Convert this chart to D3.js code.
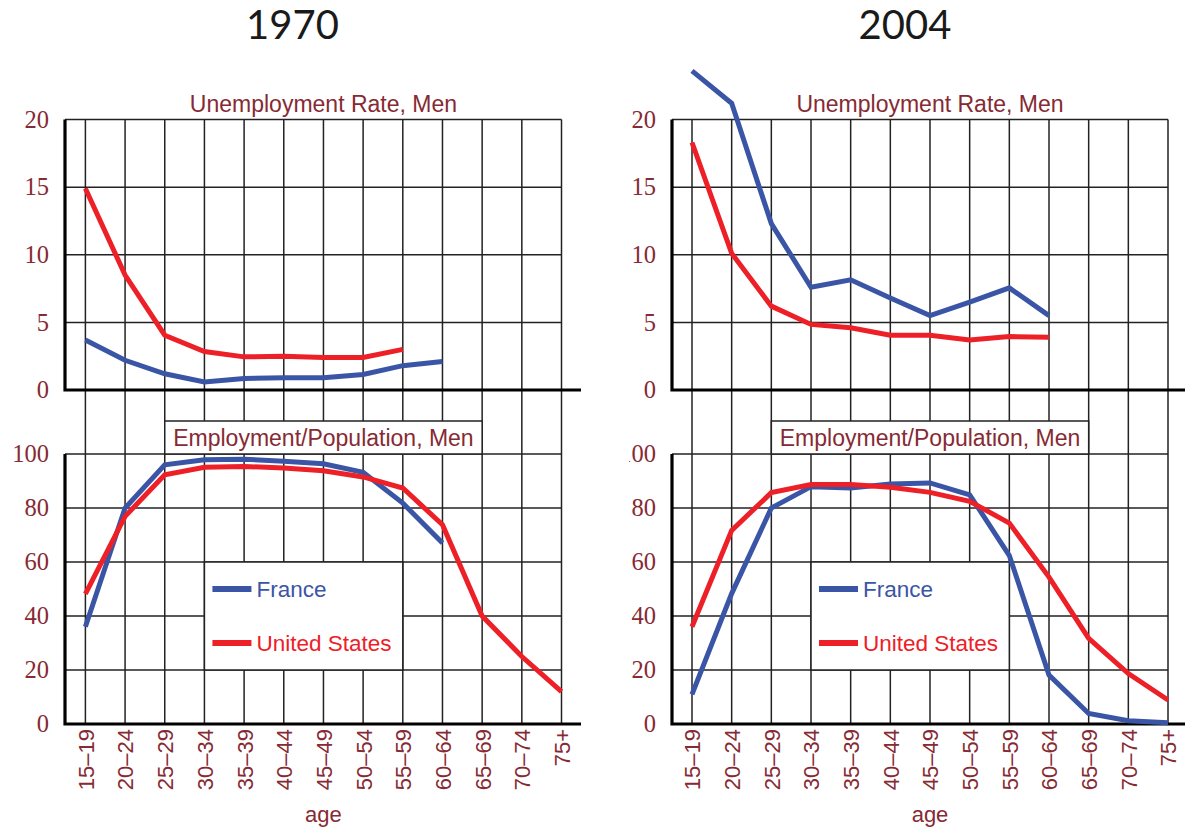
<!DOCTYPE html>
<html>
<head>
<meta charset="utf-8">
<script src="https://cdn.jsdelivr.net/npm/d3@7"></script>
<style>
  html, body { margin: 0; padding: 0; background: #ffffff; }
  svg { display: block; }
</style>
</head>
<body>
<svg id="chart" width="1185" height="831"></svg>
<script>
// ---------- data ----------
const ages = ["15–19","20–24","25–29","30–34","35–39","40–44","45–49","50–54","55–59","60–64","65–69","70–74","75+"];
const years = ["1970", "2004"];
const unempTicks = [0, 5, 10, 15, 20];
const empTicks = [0, 20, 40, 60, 80, 100];
const seriesNames = ["France", "United States"];

const unemp1970France = [3.7, 2.2, 1.2, 0.6, 0.85, 0.9, 0.9, 1.15, 1.8, 2.1];
const unemp1970US     = [14.9, 8.5, 4.05, 2.85, 2.45, 2.5, 2.4, 2.4, 3.0];
const emp1970France   = [36, 80, 96, 97.9, 98.1, 97.3, 96.4, 93.2, 81.8, 67];
const emp1970US       = [48.2, 76.9, 92.3, 95.1, 95.4, 94.8, 93.8, 91.5, 87.4, 73.8, 40, 25, 12];

const unemp2004France = [23.6, 21.2, 12.3, 7.6, 8.15, 6.8, 5.5, 6.5, 7.55, 5.5];
const unemp2004US     = [18.3, 10.1, 6.2, 4.85, 4.6, 4.05, 4.05, 3.7, 3.95, 3.9];
const emp2004France   = [11, 48.3, 80, 87.9, 87.4, 88.9, 89.3, 84.9, 62.4, 18.1, 3.9, 1.2, 0.5];
const emp2004US       = [36, 71.7, 85.7, 88.7, 88.7, 87.7, 85.8, 82.5, 74.4, 54.4, 31.7, 18.7, 8.9];

// ---------- styles ----------
const BLUE = "#3a55a5";
const RED = "#ed2027";
const TXT = "#862a33";
const GRID = "#222";
const SANS = "'Liberation Sans', Arial, sans-serif";
const SERIF = "'Liberation Serif', 'Times New Roman', serif";

const svg = d3.select("#chart");

const defs = svg.append("defs");
defs.append("clipPath").attr("id", "clipRight")
  .append("rect").attr("x", 629).attr("y", 0).attr("width", 600).attr("height", 831);

const panels = [
  { year: years[0], axisX: 65, x0: 85.4, x1: 561.5, axisEnd: 581, titleX: 292.5,
    uF: unemp1970France, uU: unemp1970US, eF: emp1970France, eU: emp1970US, clip: null },
  { year: years[1], axisX: 672, x0: 692, x1: 1168, axisEnd: 1185, titleX: 905,
    uF: unemp2004France, uU: unemp2004US, eF: emp2004France, eU: emp2004US, clip: "url(#clipRight)" }
];

const yTop = d3.scaleLinear().domain([0, 20]).range([390, 119.5]);
const yBot = d3.scaleLinear().domain([0, 100]).range([724, 454]);

panels.forEach(p => {
  const g = svg.append("g");
  if (p.clip) g.attr("clip-path", p.clip);

  const x = d3.scalePoint().domain(ages).range([p.x0, p.x1]);
  const xLast = x(ages[ages.length - 1]);
  const xMid = (p.x0 + p.x1) / 2;

  // year title
  svg.append("text")
    .attr("x", p.titleX).attr("y", 39)
    .attr("text-anchor", "middle")
    .style("font-family", "Lato, 'Open Sans', sans-serif")
    .style("font-size", "40px")
    .style("fill", "#1a1a1a")
    .text(p.year);

  // vertical grid lines (continuous through both panels)
  g.append("g").selectAll("line").data(ages).join("line")
    .attr("x1", d => x(d)).attr("x2", d => x(d))
    .attr("y1", yTop(20)).attr("y2", yBot(0))
    .attr("stroke", GRID).attr("stroke-width", 1.5);

  // horizontal grid lines
  g.append("g").selectAll("line").data(unempTicks.filter(t => t > 0)).join("line")
    .attr("x1", p.axisX).attr("x2", xLast)
    .attr("y1", d => yTop(d)).attr("y2", d => yTop(d))
    .attr("stroke", GRID).attr("stroke-width", 1.5);
  g.append("g").selectAll("line").data(empTicks.filter(t => t > 0)).join("line")
    .attr("x1", p.axisX).attr("x2", xLast)
    .attr("y1", d => yBot(d)).attr("y2", d => yBot(d))
    .attr("stroke", GRID).attr("stroke-width", 1.5);

  // Employment title box
  const bx0 = x("25–29"), bx1 = x("65–69");
  g.append("rect")
    .attr("x", bx0).attr("y", 421)
    .attr("width", bx1 - bx0).attr("height", yBot(100) - 421)
    .attr("fill", "#fff").attr("stroke", GRID).attr("stroke-width", 1.5);
  g.append("text")
    .attr("x", xMid).attr("y", 446)
    .attr("text-anchor", "middle")
    .style("font-family", SANS).style("font-size", "23px").style("fill", TXT)
    .text("Employment/Population, Men");

  // Unemployment title
  g.append("text")
    .attr("x", xMid).attr("y", 112)
    .attr("text-anchor", "middle")
    .style("font-family", SANS).style("font-size", "23px").style("fill", TXT)
    .text("Unemployment Rate, Men");

  // Legend box
  const lx0 = x("30–34"), lx1 = x("55–59");
  g.append("rect")
    .attr("x", lx0).attr("y", yBot(60))
    .attr("width", lx1 - lx0).attr("height", yBot(20) - yBot(60))
    .attr("fill", "#fff").attr("stroke", GRID).attr("stroke-width", 1.5);

  // y axes (labels)
  const axTop = d3.axisLeft(yTop).tickValues(unempTicks).tickSize(0).tickPadding(16);
  const gat = g.append("g").attr("transform", `translate(${p.axisX},0)`).call(axTop);
  gat.select(".domain").remove();
  gat.selectAll("text").style("font-family", SERIF).style("font-size", "24.5px").style("fill", TXT);

  const axBot = d3.axisLeft(yBot).tickValues(empTicks).tickSize(0).tickPadding(16);
  const gab = g.append("g").attr("transform", `translate(${p.axisX},0)`).call(axBot);
  gab.select(".domain").remove();
  gab.selectAll("text").style("font-family", SERIF).style("font-size", "24.5px").style("fill", TXT);

  // x axis labels
  const axX = d3.axisBottom(x).tickSize(0);
  const gx = g.append("g").attr("transform", `translate(0,${yBot(0)})`).call(axX);
  gx.select(".domain").remove();
  gx.selectAll("text")
    .attr("transform", "rotate(-90)")
    .attr("x", -5).attr("y", 0).attr("dy", "0.36em")
    .style("text-anchor", "end")
    .style("font-family", SANS).style("font-size", "22px").style("fill", TXT);

  g.append("text")
    .attr("x", xMid).attr("y", 822)
    .attr("text-anchor", "middle")
    .style("font-family", SANS).style("font-size", "22px").style("fill", TXT)
    .text("age");

  // axis lines
  const axisStyle = sel => sel.attr("stroke", "#000").attr("stroke-width", 3.2).attr("fill", "none");
  g.append("path").attr("d", `M${p.axisX},${yTop(20)}V${yTop(0)}H${p.axisEnd}`).call(axisStyle);
  g.append("path").attr("d", `M${p.axisX},${yBot(100)}V${yBot(0)}H${p.axisEnd}`).call(axisStyle);

  // data lines
  const lineTop = d3.line().x((d, i) => x(ages[i])).y(d => yTop(d));
  const lineBot = d3.line().x((d, i) => x(ages[i])).y(d => yBot(d));
  const drawLine = (data, gen, color) =>
    g.append("path").datum(data).attr("d", gen)
      .attr("fill", "none").attr("stroke", color).attr("stroke-width", 5)
      .attr("stroke-linejoin", "miter").attr("stroke-miterlimit", 3);
  drawLine(p.uF, lineTop, BLUE);
  drawLine(p.uU, lineTop, RED);
  drawLine(p.eF, lineBot, BLUE);
  drawLine(p.eU, lineBot, RED);

  // legend entries
  const legend = [
    { name: seriesNames[0], color: BLUE, y: 589, ty: 597 },
    { name: seriesNames[1], color: RED, y: 643, ty: 651 }
  ];
  legend.forEach(l => {
    g.append("line")
      .attr("x1", lx0 + 8).attr("x2", lx0 + 47)
      .attr("y1", l.y).attr("y2", l.y)
      .attr("stroke", l.color).attr("stroke-width", 6);
    g.append("text")
      .attr("x", lx0 + 52).attr("y", l.ty)
      .style("font-family", SANS).style("font-size", "22.5px").style("fill", l.color)
      .text(l.name);
  });
});
</script>
</body>
</html>
